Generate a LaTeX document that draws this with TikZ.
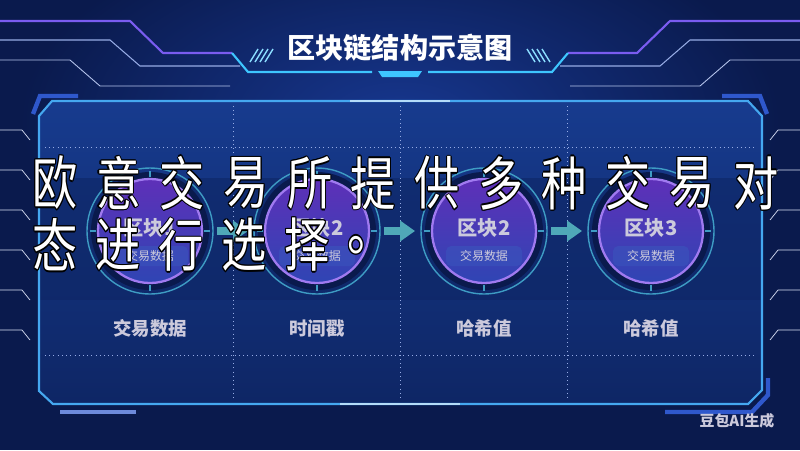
\documentclass[tikz,border=0pt]{standalone}
\usepackage{fontspec}
\usepackage{tikz}
\usetikzlibrary{arrows.meta,positioning,calc}

\newfontfamily\heiti{Noto Sans CJK SC}

\definecolor{bgnavy}{HTML}{0A1A4D}
\definecolor{bgglow}{HTML}{17378F}
\definecolor{paneltop}{HTML}{173B8E}
\definecolor{panelbot}{HTML}{0E2665}
\definecolor{edgecyan}{HTML}{45A8F0}
\definecolor{edgeblue}{HTML}{2F58CC}
\definecolor{flowteal}{HTML}{4FA8B8}
\definecolor{ringteal}{HTML}{3E9CC4}
\definecolor{disctop}{HTML}{5E30B8}
\definecolor{discbot}{HTML}{2F45B4}
\definecolor{discedge}{HTML}{A07AF0}
\definecolor{bandblue}{HTML}{3A5BC0}
\definecolor{txtgray}{HTML}{CCCADC}
\definecolor{decopurple}{HTML}{7A5CF0}
\definecolor{decocyan}{HTML}{3EC6FF}

% white text with a thin black rim
\newcommand\outl[1]{\leavevmode
  \rlap{\textcolor{black}{\kern-0.8pt#1}}\rlap{\textcolor{black}{\kern0.8pt#1}}%
  \rlap{\textcolor{black}{\raisebox{0.8pt}{#1}}}\rlap{\textcolor{black}{\raisebox{-0.8pt}{#1}}}%
  \rlap{\textcolor{black}{\kern-0.55pt\raisebox{0.55pt}{#1}}}\rlap{\textcolor{black}{\kern0.55pt\raisebox{0.55pt}{#1}}}%
  \rlap{\textcolor{black}{\kern-0.55pt\raisebox{-0.55pt}{#1}}}\rlap{\textcolor{black}{\kern0.55pt\raisebox{-0.55pt}{#1}}}%
  #1}

% title frame lines, left half
\newcommand\titledeco{%
  \draw[decopurple, line width=1.2pt] (0,21) -- (130,21) -- (163,53) -- (232,53);
  \draw[decocyan, line width=1.2pt] (232,53) -- (248,72) -- (372,72);
  \draw[edgeblue!50, line width=0.6pt] (0,40) -- (110,40) -- (140,66) -- (240,66);
  \draw[edgeblue!35, line width=0.5pt] (0,60) -- (70,60) -- (100,86) -- (230,86);
  \foreach \k in {0,5,10,15}
    \draw[decocyan!60, line width=0.8pt] ({250+\k},62) -- ({258+\k},49);
}

\tikzset{
  block/.style={circle, draw=ringteal, line width=0.8pt, minimum size=2.52cm, inner sep=0pt},
  blocktitle/.style={font=\heiti\bfseries\fontsize{11.5}{12}\selectfont, text=txtgray},
  blocksub/.style={font=\heiti\fontsize{6.8}{7}\selectfont, text=txtgray},
  caption/.style={font=\heiti\bfseries\fontsize{10.5}{11}\selectfont, text=txtgray},
  flow/.style={flowteal, line width=0.16cm, shorten <=2pt, shorten >=3pt,
    -{Triangle[length=0.3cm, width=0.4cm]}},
  grid/.style={edgeblue!50, dotted, line width=0.4pt},
  bigtxt/.style={font=\heiti\fontsize{33}{33}\selectfont, text=white, xscale=0.78, inner sep=0pt},
}

\begin{document}
\begin{tikzpicture}[x=0.02cm, y=-0.02cm]
\useasboundingbox (0,0) rectangle (800,450);

% Background
\fill[bgnavy] (0,0) rectangle (800,450);
\shade[inner color=bgglow, outer color=bgnavy] (400,120) ellipse (380 and 200);
\foreach \yy in {130,170,210,250,290,330}
  \draw[edgeblue!18, line width=0.4pt] (0,\yy) -- (22,\yy) -- (30,{\yy+10});
\foreach \yy in {130,170,210,250,290,330}
  \draw[edgeblue!18, line width=0.4pt] (800,\yy) -- (778,\yy) -- (770,{\yy+10});

% Title
\titledeco
\begin{scope}[shift={(800,0)}, xscale=-1]
  \titledeco
\end{scope}
\fill[decocyan] (378,71) -- (422,71) -- (418,77) -- (382,77) -- cycle;
\node[font=\heiti\bfseries\fontsize{16}{16}\selectfont, text=white] (title) at (400,48) {区块链结构示意图};

% Panel
\draw[edgeblue, line width=2.5pt] (33,114) -- (40,96) -- (78,96);
\draw[edgeblue, line width=2.5pt] (722,96) -- (760,96) -- (767,114);
\draw[edgeblue!70, line width=2pt] (60,412) -- (136,412);
\draw[edgeblue, line width=2.5pt] (665,412) -- (752,412) -- (768,395) -- (768,378);
\shade[top color=paneltop, bottom color=panelbot]
  (39,116) -- (52,101) -- (748,101) -- (762,116) -- (762,390) -- (748,404) -- (53,404) -- (39,391) -- cycle;
\fill[panelbot, opacity=0.6] (39,178) rectangle (762,300);
\foreach \xx in {233,400,567}
  \draw[grid] (\xx,106) -- (\xx,399);
\draw[grid] (45,147) -- (756,147);
\draw[grid] (45,355) -- (756,355);
\draw[edgecyan, line width=1.2pt]
  (39,116) -- (52,101) -- (748,101) -- (762,116) -- (762,390) -- (748,404) -- (53,404) -- (39,391) -- cycle;
\draw[white, opacity=0.6, line width=1pt] (350,101) -- (450,101);
\draw[white, opacity=0.6, line width=1pt] (340,404) -- (460,404);

% Blocks
\foreach \xx/\bt/\cap/\i in {150/区块1/交易数据/1, 317/区块2/时间戳/2, 484/区块2/哈希值/3, 651/区块3/哈希值/4} {
  \node[block] (b\i) at (\xx,231) {};
  \fill[bgnavy] (\xx,231) circle (59);
  \shade[top color=disctop, bottom color=discbot, draw=discedge, line width=1.3pt] (\xx,231) circle (52);
  \foreach \aa in {0,90,180,270}
    \draw[ringteal, line width=0.8pt] ($(\xx,231)+(\aa:54)$) -- ($(\xx,231)+(\aa:60)$);
  \fill[bandblue, opacity=0.45, rounded corners=3pt] ({\xx-38},246) rectangle ({\xx+38},266);
  \node[blocktitle] (b\i t) at (\xx,228) {\bt};
  \node[blocksub] (b\i s) at (\xx,256) {交易数据};
  \node[caption] (c\i) at (\xx,328) {\cap};
}

% Links
\foreach \i/\j in {1/2, 2/3, 3/4}
  \draw[flow] (b\i) -- (b\j);

% Watermark
\node[font=\heiti\bfseries\fontsize{8.5}{9}\selectfont, text=txtgray] (mark) at (737,421) {豆包AI生成};

% Overlay text
\foreach \ch [count=\i] in {欧,意,交,易,所,提,供,多,种,交,易,对}
  \node[bigtxt] (ra\i) at ({55+63.7*(\i-1)},183) {\outl{\ch}};
\foreach \ch [count=\i] in {态,进,行,选,择,。}
  \node[bigtxt] (rb\i) at ({55+63*(\i-1)},245) {\outl{\ch}};
\end{tikzpicture}
\end{document}
